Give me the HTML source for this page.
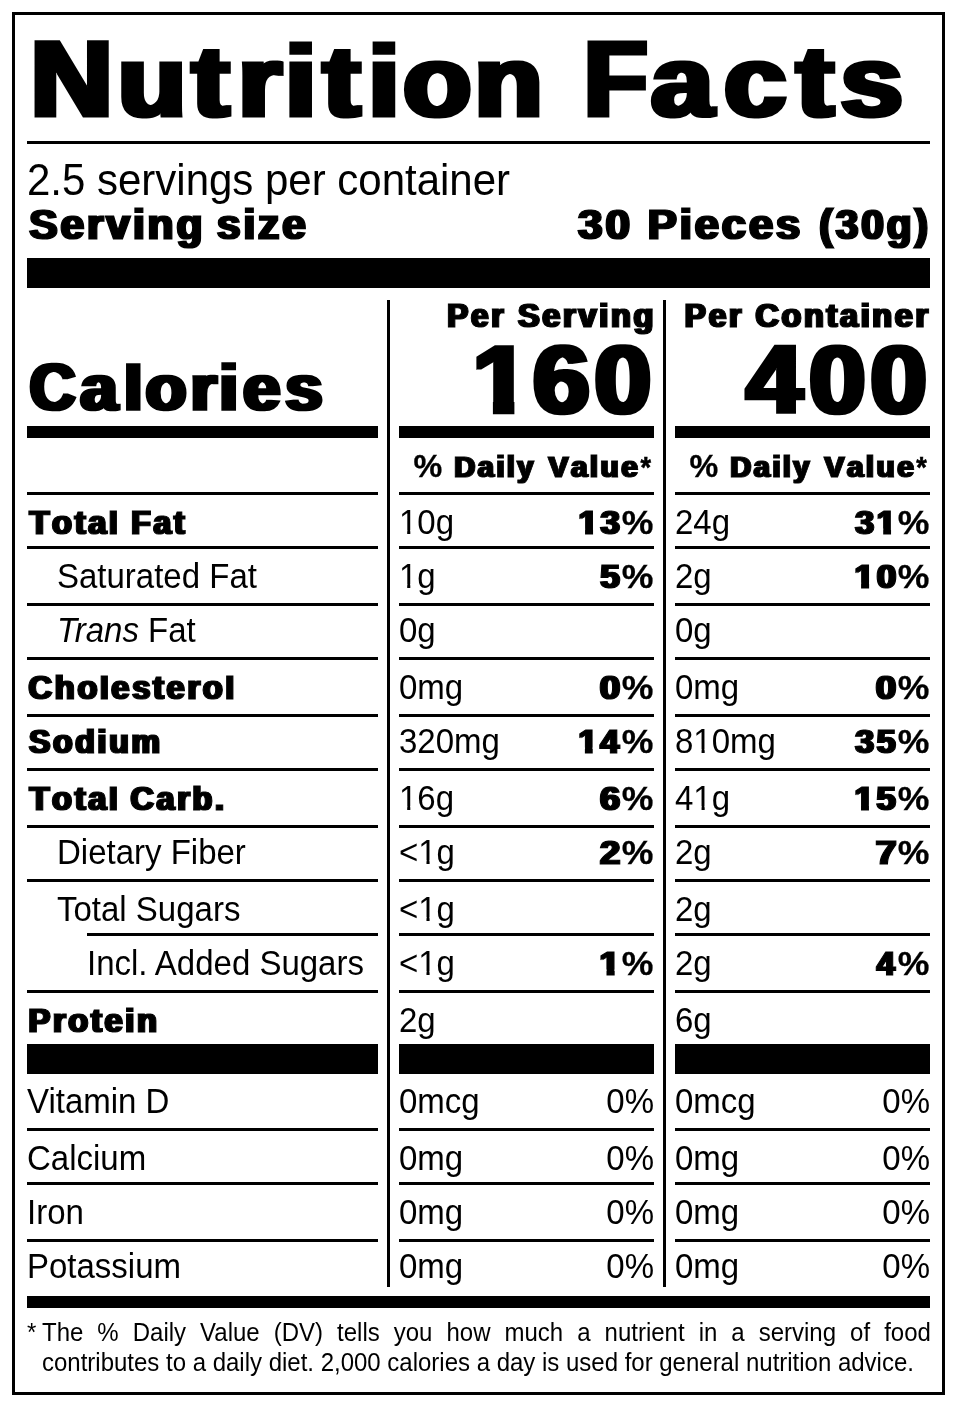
<!DOCTYPE html>
<html lang="en"><head><meta charset="utf-8"><title>Nutrition Facts</title>
<style>
html,body{margin:0;padding:0;background:#fff}
svg{display:block}
text{font-family:"Liberation Sans",sans-serif;fill:#000;white-space:pre}
text.b{font-weight:bold;stroke:#000;stroke-linejoin:miter;font-kerning:none}
</style></head><body>
<svg width="957" height="1407" viewBox="0 0 957 1407">
<defs>
<filter id="h1" x="-20%" y="-10%" width="140%" height="120%"><feMorphology operator="dilate" radius="1 0"/></filter>
<filter id="h2" x="-20%" y="-10%" width="140%" height="120%"><feMorphology operator="dilate" radius="2 0"/></filter>
<filter id="h3" x="-20%" y="-10%" width="140%" height="120%"><feMorphology operator="dilate" radius="3 0"/></filter>
</defs>
<rect x="0" y="0" width="957" height="1407" fill="#fff"/>
<g fill="#000">
<path d="M13.5 13.5H943.5V1393.5H13.5Z" fill="none" stroke="#000" stroke-width="3"/>
<rect x="27" y="141" width="903" height="3"/>
<rect x="27" y="258" width="903" height="30"/>
<rect x="387" y="300" width="3" height="987"/>
<rect x="663" y="300" width="3" height="987"/>
<rect x="27" y="426" width="351" height="12"/>
<rect x="27" y="492" width="351" height="3"/>
<rect x="27" y="546" width="351" height="3"/>
<rect x="27" y="603" width="351" height="3"/>
<rect x="27" y="657" width="351" height="3"/>
<rect x="27" y="714" width="351" height="3"/>
<rect x="27" y="768" width="351" height="3"/>
<rect x="27" y="825" width="351" height="3"/>
<rect x="27" y="879" width="351" height="3"/>
<rect x="27" y="990" width="351" height="3"/>
<rect x="27" y="1128" width="351" height="3"/>
<rect x="27" y="1182" width="351" height="3"/>
<rect x="27" y="1239" width="351" height="3"/>
<rect x="27" y="1044" width="351" height="30"/>
<rect x="399" y="426" width="255" height="12"/>
<rect x="399" y="492" width="255" height="3"/>
<rect x="399" y="546" width="255" height="3"/>
<rect x="399" y="603" width="255" height="3"/>
<rect x="399" y="657" width="255" height="3"/>
<rect x="399" y="714" width="255" height="3"/>
<rect x="399" y="768" width="255" height="3"/>
<rect x="399" y="825" width="255" height="3"/>
<rect x="399" y="879" width="255" height="3"/>
<rect x="399" y="990" width="255" height="3"/>
<rect x="399" y="1128" width="255" height="3"/>
<rect x="399" y="1182" width="255" height="3"/>
<rect x="399" y="1239" width="255" height="3"/>
<rect x="399" y="1044" width="255" height="30"/>
<rect x="675" y="426" width="255" height="12"/>
<rect x="675" y="492" width="255" height="3"/>
<rect x="675" y="546" width="255" height="3"/>
<rect x="675" y="603" width="255" height="3"/>
<rect x="675" y="657" width="255" height="3"/>
<rect x="675" y="714" width="255" height="3"/>
<rect x="675" y="768" width="255" height="3"/>
<rect x="675" y="825" width="255" height="3"/>
<rect x="675" y="879" width="255" height="3"/>
<rect x="675" y="990" width="255" height="3"/>
<rect x="675" y="1128" width="255" height="3"/>
<rect x="675" y="1182" width="255" height="3"/>
<rect x="675" y="1239" width="255" height="3"/>
<rect x="675" y="1044" width="255" height="30"/>
<rect x="87" y="933" width="291" height="3"/>
<rect x="399" y="933" width="255" height="3"/>
<rect x="675" y="933" width="255" height="3"/>
<rect x="27" y="1296" width="903" height="12"/>
<g filter="url(#h2)"><text class="b" transform="translate(0 115.50) scale(1.1103 1)" x="27.36 106.28 172.86 214.63 256.82 291.02 331.84 363.21 427.27 488.62 526.01 586.66 652.36 717.33 757.21" font-size="107.99" stroke-width="3.00"><tspan textLength="74.12" lengthAdjust="spacingAndGlyphs">N</tspan><tspan font-size="100.43">utrition</tspan> <tspan textLength="57.15" lengthAdjust="spacingAndGlyphs">F</tspan><tspan font-size="100.43">acts</tspan></text></g>
<text transform="translate(27 195) scale(1 1.04)" font-size="42">2.5 servings per container</text>
<g filter="url(#h1)"><text class="b" transform="translate(0 239.40) scale(1.0159 1)" x="28.72 59.47 85.59 104.71 130.83 145.29 173.70" font-size="41.86" stroke-width="1.20">Serving</text></g>
<g filter="url(#h1)"><text class="b" transform="translate(0 239.40) scale(1.0123 1)" x="214.37 240.49 254.97 278.74" font-size="41.86" stroke-width="1.20">size</text></g>
<g filter="url(#h1)"><text class="b" transform="translate(0 239.40) scale(1.0510 1)" x="550.06 576.08" font-size="41.86" stroke-width="1.20">30</text></g>
<g filter="url(#h1)"><text class="b" transform="translate(0 239.40) scale(1.0401 1)" x="622.89 653.58 667.98 694.03 720.08 746.13" font-size="41.86" stroke-width="1.20">Pieces</text></g>
<g filter="url(#h1)"><text class="b" transform="translate(0 239.40) scale(0.9712 1)" x="843.58 860.49 886.73 912.98 941.52" font-size="41.86" stroke-width="1.20">(30g)</text></g>
<g filter="url(#h1)"><text class="b" transform="translate(0 326.50) scale(0.9569 1)" x="467.46 492.19 513.28" font-size="32.85" stroke-width="1.00">Per</text></g>
<g filter="url(#h1)"><text class="b" transform="translate(0 326.50) scale(0.9894 1)" x="523.52 548.16 569.15 584.67 605.66 617.52 640.31" font-size="32.85" stroke-width="1.00">Serving</text></g>
<g filter="url(#h1)"><text class="b" transform="translate(0 326.50) scale(0.9628 1)" x="711.31 736.03 757.10" font-size="32.85" stroke-width="1.00">Per</text></g>
<g filter="url(#h1)"><text class="b" transform="translate(0 326.50) scale(0.9857 1)" x="766.41 792.87 815.67 838.48 852.15 873.16 885.03 907.83 928.84" font-size="32.85" stroke-width="1.00">Container</text></g>
<g filter="url(#h2)"><text class="b" transform="translate(0 410.25) scale(1.0295 1)" x="29.00 78.27 120.73 141.48 185.22 213.22 236.34 277.34" font-size="66.57" stroke-width="1.50"><tspan textLength="44.31" lengthAdjust="spacingAndGlyphs">C</tspan><tspan font-size="64.57">a</tspan><tspan font-size="63.24">l</tspan><tspan font-size="64.57">ories</tspan></text></g>
<g filter="url(#h2)"><text class="b" transform="translate(0 412.75) scale(1.0603 1)" x="445.92 502.80 560.66" font-size="96.08" stroke-width="2.50">160</text></g>
<rect x="468" y="396" width="24.9" height="22" fill="#fff"/><rect x="514.4" y="396" width="17" height="22" fill="#fff"/>
<g filter="url(#h2)"><text class="b" transform="translate(0 412.75) scale(1.0529 1)" x="708.70 768.51 826.87" font-size="96.08" stroke-width="2.50">400</text></g>
<text class="b" transform="translate(0 476.85) scale(1.0496 1)" x="393.99" font-size="30.81" stroke-width="0.30">%</text>
<g filter="url(#h1)"><text class="b" transform="translate(0 476.60) scale(0.9668 1)" x="469.85 494.18 513.52 524.49 535.03" font-size="30.09" stroke-width="0.80">Dai<tspan font-size="28.58">l</tspan>y</text></g>
<g><g filter="url(#h1)"><text class="b" transform="translate(0 476.60) scale(0.9911 1)" x="553.52 576.13 595.41 605.89 626.81" font-size="30.09" stroke-width="0.80">Va<tspan font-size="28.58">l</tspan>ue</text></g><text class="b" transform="translate(0 476.70) scale(0.8886 1)" x="720.67" font-size="30.38" stroke-width="0.60">*</text></g>
<text class="b" transform="translate(0 476.85) scale(1.0496 1)" x="656.94" font-size="30.81" stroke-width="0.30">%</text>
<g filter="url(#h1)"><text class="b" transform="translate(0 476.60) scale(0.9668 1)" x="755.32 779.65 798.99 809.96 820.51" font-size="30.09" stroke-width="0.80">Dai<tspan font-size="28.58">l</tspan>y</text></g>
<g><g filter="url(#h1)"><text class="b" transform="translate(0 476.60) scale(0.9911 1)" x="832.00 854.61 873.89 884.37 905.29" font-size="30.09" stroke-width="0.80">Va<tspan font-size="28.58">l</tspan>ue</text></g><text class="b" transform="translate(0 476.70) scale(0.8886 1)" x="1031.26" font-size="30.38" stroke-width="0.60">*</text></g>
<g filter="url(#h1)"><text class="b" transform="translate(0 533.50) scale(0.9916 1)" x="29.78 52.57 75.36 89.02 110.01" font-size="32.85" stroke-width="1.00">Tota<tspan font-size="31.21">l</tspan></text></g>
<g filter="url(#h1)"><text class="b" transform="translate(0 533.50) scale(0.9684 1)" x="135.66 158.51 179.57" font-size="32.85" stroke-width="1.00">Fat</text></g>
<text transform="translate(399 534) scale(1 1.04)" font-size="33">10g</text>
<text transform="translate(675 534) scale(1 1.04)" font-size="33">24g</text>
<g><g filter="url(#h1)"><text class="b" transform="translate(0 533.50) scale(1.0636 1)" x="543.89 564.69" font-size="32.85" stroke-width="1.00">13</text></g><text class="b" transform="translate(0 533.85) scale(1.0502 1)" x="592.06" font-size="33.87" stroke-width="0.30">%</text></g>
<g><g filter="url(#h1)"><text class="b" transform="translate(0 533.50) scale(1.0324 1)" x="828.47 849.35" font-size="32.85" stroke-width="1.00">31</text></g><text class="b" transform="translate(0 533.85) scale(1.0502 1)" x="854.87" font-size="33.87" stroke-width="0.30">%</text></g>
<text transform="translate(57 588) scale(1 1.04)" font-size="33">Saturated Fat</text>
<text transform="translate(399 588) scale(1 1.04)" font-size="33">1g</text>
<text transform="translate(675 588) scale(1 1.04)" font-size="33">2g</text>
<g><g filter="url(#h1)"><text class="b" transform="translate(0 587.50) scale(1.0707 1)" x="560.58" font-size="32.85" stroke-width="1.00">5</text></g><text class="b" transform="translate(0 587.85) scale(1.0502 1)" x="592.06" font-size="33.87" stroke-width="0.30">%</text></g>
<g><g filter="url(#h1)"><text class="b" transform="translate(0 587.50) scale(1.0688 1)" x="799.49 820.29" font-size="32.85" stroke-width="1.00">10</text></g><text class="b" transform="translate(0 587.85) scale(1.0502 1)" x="854.87" font-size="33.87" stroke-width="0.30">%</text></g>
<text transform="translate(57 642) scale(1 1.04)" font-size="33"><tspan font-style="italic">Trans</tspan> Fat</text>
<text transform="translate(399 642) scale(1 1.04)" font-size="33">0g</text>
<text transform="translate(675 642) scale(1 1.04)" font-size="33">0g</text>
<g filter="url(#h1)"><text class="b" transform="translate(0 698.50) scale(0.9930 1)" x="28.76 55.20 77.99 100.77 112.16 133.15 154.14 167.80 188.78 204.29 227.07" font-size="32.85" stroke-width="1.00">Cho<tspan font-size="31.21">l</tspan>estero<tspan font-size="31.21">l</tspan></text></g>
<text transform="translate(399 699) scale(1 1.04)" font-size="33">0mg</text>
<text transform="translate(675 699) scale(1 1.04)" font-size="33">0mg</text>
<g><g filter="url(#h1)"><text class="b" transform="translate(0 698.50) scale(1.1202 1)" x="535.49" font-size="32.85" stroke-width="1.00">0</text></g><text class="b" transform="translate(0 698.85) scale(1.0502 1)" x="592.06" font-size="33.87" stroke-width="0.30">%</text></g>
<g><g filter="url(#h1)"><text class="b" transform="translate(0 698.50) scale(1.1202 1)" x="781.88" font-size="32.85" stroke-width="1.00">0</text></g><text class="b" transform="translate(0 698.85) scale(1.0502 1)" x="854.87" font-size="33.87" stroke-width="0.30">%</text></g>
<g filter="url(#h1)"><text class="b" transform="translate(0 752.50) scale(0.9757 1)" x="29.70 54.38 77.21 100.04 111.94 134.77" font-size="32.85" stroke-width="1.00">Sodium</text></g>
<text transform="translate(399 753) scale(1 1.04)" font-size="33">320mg</text>
<text transform="translate(675 753) scale(1 1.04)" font-size="33">810mg</text>
<g><g filter="url(#h1)"><text class="b" transform="translate(0 752.50) scale(1.0323 1)" x="560.46 581.35" font-size="32.85" stroke-width="1.00">14</text></g><text class="b" transform="translate(0 752.85) scale(1.0502 1)" x="592.06" font-size="33.87" stroke-width="0.30">%</text></g>
<g><g filter="url(#h1)"><text class="b" transform="translate(0 752.50) scale(1.0324 1)" x="828.47 849.35" font-size="32.85" stroke-width="1.00">35</text></g><text class="b" transform="translate(0 752.85) scale(1.0502 1)" x="854.87" font-size="33.87" stroke-width="0.30">%</text></g>
<g filter="url(#h1)"><text class="b" transform="translate(0 809.50) scale(0.9916 1)" x="29.78 52.57 75.36 89.02 110.01" font-size="32.85" stroke-width="1.00">Tota<tspan font-size="31.21">l</tspan></text></g>
<g filter="url(#h1)"><text class="b" transform="translate(0 809.50) scale(0.9843 1)" x="132.65 159.12 180.13 195.65 218.46" font-size="32.85" stroke-width="1.00">Carb.</text></g>
<text transform="translate(399 810) scale(1 1.04)" font-size="33">16g</text>
<text transform="translate(675 810) scale(1 1.04)" font-size="33">41g</text>
<g><g filter="url(#h1)"><text class="b" transform="translate(0 809.50) scale(1.1021 1)" x="544.40" font-size="32.85" stroke-width="1.00">6</text></g><text class="b" transform="translate(0 809.85) scale(1.0502 1)" x="592.06" font-size="33.87" stroke-width="0.30">%</text></g>
<g><g filter="url(#h1)"><text class="b" transform="translate(0 809.50) scale(1.0550 1)" x="809.97 830.80" font-size="32.85" stroke-width="1.00">15</text></g><text class="b" transform="translate(0 809.85) scale(1.0502 1)" x="854.87" font-size="33.87" stroke-width="0.30">%</text></g>
<text transform="translate(57 864) scale(1 1.04)" font-size="33">Dietary Fiber</text>
<text transform="translate(399 864) scale(1 1.04)" font-size="33">&lt;1g</text>
<text transform="translate(675 864) scale(1 1.04)" font-size="33">2g</text>
<g><g filter="url(#h1)"><text class="b" transform="translate(0 863.50) scale(1.1066 1)" x="542.26" font-size="32.85" stroke-width="1.00">2</text></g><text class="b" transform="translate(0 863.85) scale(1.0502 1)" x="592.06" font-size="33.87" stroke-width="0.30">%</text></g>
<g><g filter="url(#h1)"><text class="b" transform="translate(0 863.50) scale(1.1353 1)" x="771.31" font-size="32.85" stroke-width="1.00">7</text></g><text class="b" transform="translate(0 863.85) scale(1.0502 1)" x="854.87" font-size="33.87" stroke-width="0.30">%</text></g>
<text transform="translate(57 921) scale(1 1.04)" font-size="33">Total Sugars</text>
<text transform="translate(399 921) scale(1 1.04)" font-size="33">&lt;1g</text>
<text transform="translate(675 921) scale(1 1.04)" font-size="33">2g</text>
<text transform="translate(87 975) scale(1 1.04)" font-size="33">Incl. Added Sugars</text>
<text transform="translate(399 975) scale(1 1.04)" font-size="33">&lt;1g</text>
<text transform="translate(675 975) scale(1 1.04)" font-size="33">2g</text>
<g><g filter="url(#h1)"><text class="b" transform="translate(0 974.50) scale(1.1056 1)" x="542.33" font-size="32.85" stroke-width="1.00">1</text></g><text class="b" transform="translate(0 974.85) scale(1.0502 1)" x="592.06" font-size="33.87" stroke-width="0.30">%</text></g>
<g><g filter="url(#h1)"><text class="b" transform="translate(0 974.50) scale(0.9946 1)" x="881.58" font-size="32.85" stroke-width="1.00">4</text></g><text class="b" transform="translate(0 974.85) scale(1.0502 1)" x="854.87" font-size="33.87" stroke-width="0.30">%</text></g>
<g filter="url(#h1)"><text class="b" transform="translate(0 1031.50) scale(0.9934 1)" x="28.61 53.24 68.74 91.52 105.18 126.16 138.01" font-size="32.85" stroke-width="1.00">Protein</text></g>
<text transform="translate(399 1032) scale(1 1.04)" font-size="33">2g</text>
<text transform="translate(675 1032) scale(1 1.04)" font-size="33">6g</text>
<text transform="translate(27 1113) scale(1 1.04)" font-size="33">Vitamin D</text>
<text transform="translate(399 1113) scale(1 1.04)" font-size="33">0mcg</text>
<text transform="translate(675 1113) scale(1 1.04)" font-size="33">0mcg</text>
<text transform="translate(654 1113) scale(1 1.04)" font-size="33" text-anchor="end">0%</text>
<text transform="translate(930 1113) scale(1 1.04)" font-size="33" text-anchor="end">0%</text>
<text transform="translate(27 1170) scale(1 1.04)" font-size="33">Calcium</text>
<text transform="translate(399 1170) scale(1 1.04)" font-size="33">0mg</text>
<text transform="translate(675 1170) scale(1 1.04)" font-size="33">0mg</text>
<text transform="translate(654 1170) scale(1 1.04)" font-size="33" text-anchor="end">0%</text>
<text transform="translate(930 1170) scale(1 1.04)" font-size="33" text-anchor="end">0%</text>
<text transform="translate(27 1224) scale(1 1.04)" font-size="33">Iron</text>
<text transform="translate(399 1224) scale(1 1.04)" font-size="33">0mg</text>
<text transform="translate(675 1224) scale(1 1.04)" font-size="33">0mg</text>
<text transform="translate(654 1224) scale(1 1.04)" font-size="33" text-anchor="end">0%</text>
<text transform="translate(930 1224) scale(1 1.04)" font-size="33" text-anchor="end">0%</text>
<text transform="translate(27 1278) scale(1 1.04)" font-size="33">Potassium</text>
<text transform="translate(399 1278) scale(1 1.04)" font-size="33">0mg</text>
<text transform="translate(675 1278) scale(1 1.04)" font-size="33">0mg</text>
<text transform="translate(654 1278) scale(1 1.04)" font-size="33" text-anchor="end">0%</text>
<text transform="translate(930 1278) scale(1 1.04)" font-size="33" text-anchor="end">0%</text>
<text transform="translate(27 1341) scale(1 1.04)" font-size="24">*</text>
<text transform="translate(42 1341) scale(1 1.04)" font-size="24" word-spacing="7.382">The % Daily Value (DV) tells you how much a nutrient in a serving of food</text>
<text transform="translate(42 1371) scale(1 1.04)" font-size="24">contributes to a daily diet. 2,000 calories a day is used for general nutrition advice.</text>
<g fill="#fff"><rect x="400.51" y="530.24" width="6.68" height="5.26"/><rect x="410.31" y="530.24" width="6.43" height="5.26"/><rect x="578.20" y="528.45" width="6.85" height="7.05"/><rect x="593.05" y="528.45" width="6.41" height="7.05"/><rect x="876.52" y="528.45" width="6.68" height="7.05"/><rect x="891.05" y="528.45" width="6.25" height="7.05"/><rect x="400.51" y="584.24" width="6.68" height="5.26"/><rect x="410.31" y="584.24" width="6.43" height="5.26"/><rect x="854.20" y="582.45" width="6.88" height="7.05"/><rect x="869.10" y="582.45" width="6.44" height="7.05"/><rect x="694.87" y="749.24" width="6.68" height="5.26"/><rect x="704.67" y="749.24" width="6.43" height="5.26"/><rect x="578.20" y="747.45" width="6.68" height="7.05"/><rect x="592.73" y="747.45" width="6.25" height="7.05"/><rect x="400.51" y="806.24" width="6.68" height="5.26"/><rect x="410.31" y="806.24" width="6.43" height="5.26"/><rect x="694.87" y="806.24" width="6.68" height="5.26"/><rect x="704.67" y="806.24" width="6.43" height="5.26"/><rect x="854.20" y="804.45" width="6.81" height="7.05"/><rect x="868.96" y="804.45" width="6.37" height="7.05"/><rect x="419.79" y="860.24" width="6.68" height="5.26"/><rect x="429.59" y="860.24" width="6.43" height="5.26"/><rect x="419.79" y="917.24" width="6.68" height="5.26"/><rect x="429.59" y="917.24" width="6.43" height="5.26"/><rect x="419.79" y="971.24" width="6.68" height="5.26"/><rect x="429.59" y="971.24" width="6.43" height="5.26"/><rect x="599.40" y="969.45" width="7.09" height="7.05"/><rect x="614.67" y="969.45" width="6.63" height="7.05"/></g>
</g>
</svg>
</body></html>
